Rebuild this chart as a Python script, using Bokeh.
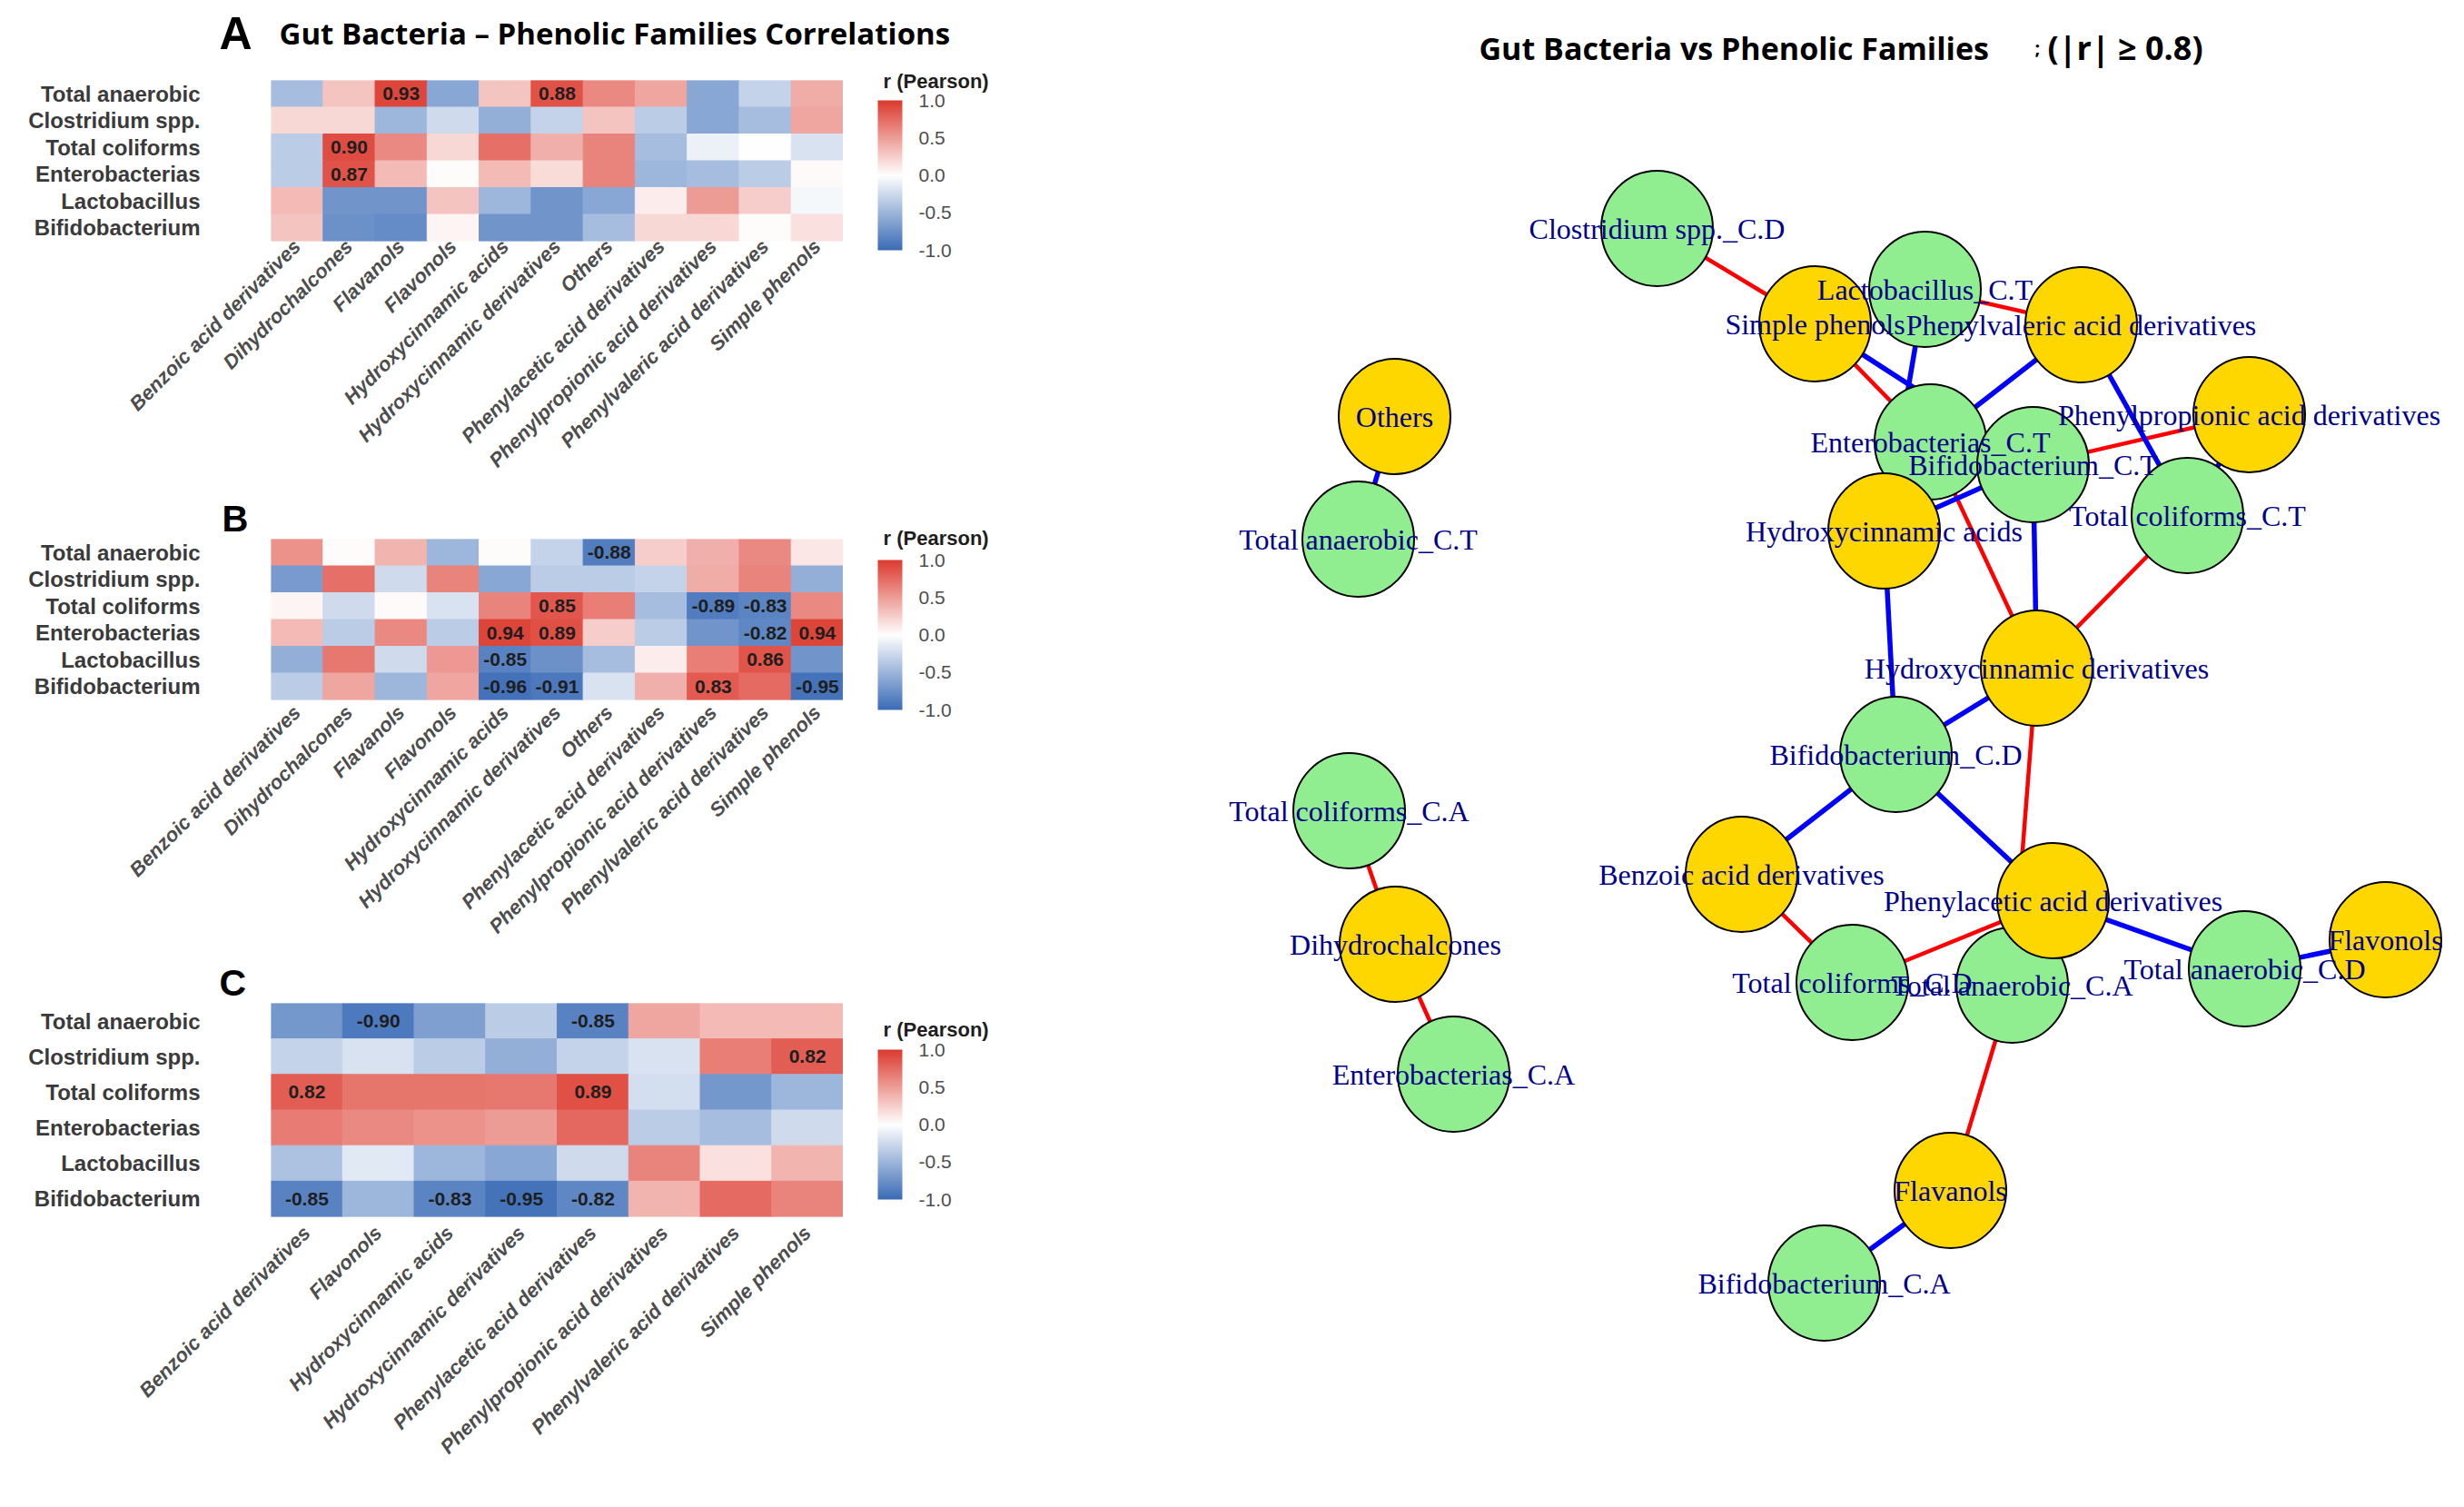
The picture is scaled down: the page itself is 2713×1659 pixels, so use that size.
import numpy as np
from bokeh.plotting import figure
from bokeh.models import (ColumnDataSource, LinearColorMapper, ColorBar, FixedTicker,
                          PrintfTickFormatter, Range1d, FactorRange)
from bokeh.layouts import column, row
from bokeh.core.properties import value
from bokeh.embed import file_html
from bokeh.resources import INLINE

# ---------------- data ----------------
rows = ["Total anaerobic", "Clostridium spp.", "Total coliforms",
        "Enterobacterias", "Lactobacillus", "Bifidobacterium"]

cols_ab = ["Benzoic acid derivatives", "Dihydrochalcones", "Flavanols", "Flavonols",
           "Hydroxycinnamic acids", "Hydroxycinnamic derivatives", "Others",
           "Phenylacetic acid derivatives", "Phenylpropionic acid derivatives",
           "Phenylvaleric acid derivatives", "Simple phenols"]

cols_c = ["Benzoic acid derivatives", "Flavonols", "Hydroxycinnamic acids",
          "Hydroxycinnamic derivatives", "Phenylacetic acid derivatives",
          "Phenylpropionic acid derivatives", "Phenylvaleric acid derivatives",
          "Simple phenols"]

r_A = [
    [-0.45, 0.30, 0.93, -0.60, 0.30, 0.88, 0.60, 0.45, -0.60, -0.30, 0.42],
    [0.20, 0.20, -0.50, -0.25, -0.55, -0.30, 0.30, -0.35, -0.60, -0.45, 0.45],
    [-0.35, 0.90, 0.60, 0.20, 0.72, 0.40, 0.62, -0.45, -0.10, 0.00, -0.20],
    [-0.35, 0.87, 0.35, 0.02, 0.35, 0.18, 0.62, -0.50, -0.45, -0.35, 0.03],
    [0.35, -0.72, -0.72, 0.30, -0.50, -0.72, -0.60, 0.10, 0.50, 0.25, -0.05],
    [0.30, -0.75, -0.78, 0.05, -0.72, -0.72, -0.45, 0.20, 0.20, 0.02, 0.15],
]

r_B = [
    [0.55, 0.02, 0.38, -0.50, 0.02, -0.30, -0.88, 0.25, 0.40, 0.60, 0.12],
    [-0.68, 0.72, -0.25, 0.62, -0.60, -0.35, -0.35, -0.30, 0.42, 0.62, -0.55],
    [0.05, -0.25, 0.03, -0.20, 0.62, 0.85, 0.65, -0.45, -0.89, -0.83, 0.60],
    [0.35, -0.35, 0.60, -0.35, 0.94, 0.89, 0.25, -0.35, -0.72, -0.82, 0.94],
    [-0.55, 0.68, -0.25, 0.52, -0.85, -0.75, -0.45, 0.10, 0.65, 0.86, -0.72],
    [-0.35, 0.45, -0.50, 0.45, -0.96, -0.91, -0.20, 0.40, 0.83, 0.75, -0.95],
]

r_C = [
    [-0.70, -0.90, -0.65, -0.35, -0.85, 0.45, 0.35, 0.35],
    [-0.30, -0.20, -0.35, -0.55, -0.30, -0.20, 0.65, 0.82],
    [0.82, 0.70, 0.70, 0.68, 0.89, -0.22, -0.70, -0.50],
    [0.66, 0.60, 0.55, 0.50, 0.76, -0.35, -0.45, -0.25],
    [-0.42, -0.15, -0.50, -0.60, -0.25, 0.62, 0.15, 0.38],
    [-0.85, -0.50, -0.83, -0.95, -0.82, 0.38, 0.75, 0.62],
]

cb_ticks = [-1.0, -0.5, 0.0, 0.5, 1.0]

# network: node names, kind (B = bacteria, P = phenolic family), layout coordinates
node_names = ["Clostridium spp._C.D", "Simple phenols", "Lactobacillus_C.T",
              "Phenylvaleric acid derivatives", "Others", "Total anaerobic_C.T",
              "Enterobacterias_C.T", "Bifidobacterium_C.T", "Hydroxycinnamic acids",
              "Phenylpropionic acid derivatives", "Total coliforms_C.T",
              "Hydroxycinnamic derivatives", "Bifidobacterium_C.D", "Total coliforms_C.A",
              "Benzoic acid derivatives", "Dihydrochalcones", "Total coliforms_C.D",
              "Total anaerobic_C.A", "Phenylacetic acid derivatives", "Total anaerobic_C.D",
              "Flavonols", "Enterobacterias_C.A", "Flavanols", "Bifidobacterium_C.A"]
node_kind = ["B", "P", "B", "P", "P", "B", "B", "B", "P", "P", "B", "P", "B", "B",
             "P", "P", "B", "B", "P", "B", "P", "B", "P", "B"]
node_lx = [1824, 1998, 2119, 2291, 1535, 1495, 2125, 2238, 2074, 2476, 2408, 2242,
           2087, 1485, 1917, 1536, 2039, 2215, 2260, 2471, 2626, 1600, 2147, 2008]
node_ly = [251, 356, 318, 357, 458, 593, 486, 511, 584, 456, 567, 735,
           830, 892, 962, 1039, 1081, 1084, 991, 1066, 1034, 1182, 1310, 1412]

edge_src = ["Clostridium spp._C.D", "Lactobacillus_C.T", "Lactobacillus_C.T",
            "Enterobacterias_C.T", "Enterobacterias_C.T", "Enterobacterias_C.T",
            "Enterobacterias_C.T", "Bifidobacterium_C.T", "Bifidobacterium_C.T",
            "Bifidobacterium_C.T", "Bifidobacterium_C.T", "Total coliforms_C.T",
            "Total coliforms_C.T", "Total coliforms_C.T", "Total anaerobic_C.T",
            "Bifidobacterium_C.D", "Bifidobacterium_C.D", "Bifidobacterium_C.D",
            "Bifidobacterium_C.D", "Total coliforms_C.D", "Total coliforms_C.D",
            "Total anaerobic_C.D", "Total anaerobic_C.D", "Total anaerobic_C.A",
            "Total anaerobic_C.A", "Total coliforms_C.A", "Enterobacterias_C.A",
            "Bifidobacterium_C.A"]
edge_dst = ["Simple phenols", "Hydroxycinnamic acids", "Phenylvaleric acid derivatives",
            "Simple phenols", "Hydroxycinnamic acids", "Hydroxycinnamic derivatives",
            "Phenylvaleric acid derivatives", "Simple phenols", "Hydroxycinnamic acids",
            "Hydroxycinnamic derivatives", "Phenylpropionic acid derivatives",
            "Hydroxycinnamic derivatives", "Phenylpropionic acid derivatives",
            "Phenylvaleric acid derivatives", "Others",
            "Benzoic acid derivatives", "Hydroxycinnamic acids", "Hydroxycinnamic derivatives",
            "Phenylacetic acid derivatives", "Benzoic acid derivatives",
            "Phenylacetic acid derivatives", "Flavonols", "Phenylacetic acid derivatives",
            "Flavanols", "Hydroxycinnamic derivatives", "Dihydrochalcones",
            "Dihydrochalcones", "Flavanols"]
edge_r = [0.82, -0.85, 0.86, 0.94, 0.94, 0.89, -0.82, -0.95, -0.96, -0.91, 0.83,
          0.85, -0.89, -0.83, -0.88, -0.85, -0.83, -0.95, -0.82, 0.82, 0.89,
          -0.90, -0.85, 0.93, 0.88, 0.90, 0.87, -0.80]

# ---------------- styling helpers ----------------
def make_palette(n=256):
    lo = np.array([59, 108, 183], dtype=float)
    mid = np.array([255, 255, 255], dtype=float)
    hi = np.array([220, 58, 46], dtype=float)
    out = []
    for t in np.linspace(0, 1, n):
        if t < 0.5:
            c = lo + (mid - lo) * (t / 0.5)
        else:
            c = mid + (hi - mid) * ((t - 0.5) / 0.5)
        out.append("#%02x%02x%02x" % tuple(int(round(v)) for v in c))
    return out

PAL = make_palette()
SANS = "Liberation Sans"
TITLE_FONT = "Open Sans"


def text_panel(width, height, x0, y0, texts):
    """A blank figure whose frame is the whole canvas; coordinates are page pixels."""
    p = figure(width=width, height=height, x_range=Range1d(x0, x0 + width),
               y_range=Range1d(y0 + height, y0), output_backend="svg",
               toolbar_location=None, x_axis_location=None, y_axis_location=None,
               min_border=0, outline_line_color=None, title=None)
    p.grid.visible = False
    for (txt, x, y, size, font, style, color) in texts:
        p.text(x=[x], y=[y], text=[txt], text_font=value(font), text_font_style=style,
               text_font_size=size, text_color=color, text_align="left",
               text_baseline="middle")
    return p


def heatmap(vals, cols, height, mb_top, mb_bottom, x_standoff):
    mapper = LinearColorMapper(palette=PAL, low=-1, high=1)
    xs, ys, rs, labs = [], [], [], []
    for i, rname in enumerate(rows):
        for j, cname in enumerate(cols):
            v = vals[i][j]
            xs.append(cname)
            ys.append(rname)
            rs.append(v)
            labs.append("%.2f" % v if abs(v) >= 0.8 else "")
    src = ColumnDataSource(dict(x=xs, y=ys, r=rs, lab=labs))
    p = figure(width=928, height=height,
               x_range=FactorRange(factors=cols), y_range=FactorRange(factors=rows[::-1]),
               output_backend="svg", toolbar_location=None, title=None,
               min_border_left=298, min_border_right=0,
               min_border_top=mb_top, min_border_bottom=mb_bottom,
               outline_line_color=None)
    p.grid.visible = False
    p.rect(x="x", y="y", width=1, height=1, source=src,
           fill_color={"field": "r", "transform": mapper},
           line_color={"field": "r", "transform": mapper}, line_width=1)
    p.text(x="x", y="y", text="lab", source=src, text_align="center",
           text_baseline="middle", text_font=value(SANS), text_font_style="bold",
           text_font_size="21px", text_color="#1e1e1e")

    xa = p.xaxis[0]
    xa.major_label_orientation = np.pi / 4
    xa.major_label_text_font = SANS
    xa.major_label_text_font_style = "bold italic"
    xa.major_label_text_font_size = "22px"
    xa.major_label_text_color = "#4d4d4d"
    xa.major_tick_line_color = None
    xa.major_tick_out = 0
    xa.axis_line_color = None
    xa.major_label_standoff = x_standoff

    ya = p.yaxis[0]
    ya.major_label_text_font = SANS
    ya.major_label_text_font_style = "bold"
    ya.major_label_text_font_size = "24px"
    ya.major_label_text_color = "#3a3a3a"
    ya.major_tick_line_color = None
    ya.major_tick_out = 0
    ya.axis_line_color = None
    ya.major_label_standoff = 78
    return p, mapper


def colorbar_panel(mapper, height, y0, bar_bottom, title_y):
    p = text_panel(372, height, 928, y0,
                   [("r (Pearson)", 972, title_y, "22px", SANS, "bold", "#1e1e1e")])
    cb = ColorBar(color_mapper=mapper, ticker=FixedTicker(ticks=cb_ticks),
                  formatter=PrintfTickFormatter(format="%.1f"),
                  orientation="vertical", width=27, height=165,
                  location=(38, y0 + height - bar_bottom), padding=0, margin=0,
                  major_label_text_font=SANS, major_label_text_font_size="21px",
                  major_label_text_color="#4d4d4d", label_standoff=18,
                  major_tick_line_color=None, bar_line_color=None,
                  background_fill_color=None, border_line_color=None)
    p.add_layout(cb)
    return p


# ---- panel A ----  (page y 0 -> 548)
hA = text_panel(1300, 75, 0, 0,
                [("A", 241, 36, "50px", SANS, "bold", "black"),
                 ("Gut Bacteria \u2013 Phenolic Families Correlations", 307, 36, "33px",
                  TITLE_FONT, "bold", "black")])
pA, mA = heatmap(r_A, cols_ab, 473, 13, 283, 2)        # page y 75 -> 548
cA = colorbar_panel(mA, 473, 75, 275, 89)
blockA = column(hA, row(column(pA), column(cA)))

# ---- panel B ----  (page y 548 -> 1058)
hB = text_panel(928, 45, 0, 548, [("B", 244, 570.5, "40px", SANS, "bold", "black")])
pB, mB = heatmap(r_B, cols_ab, 465, 0, 288, 10)        # page y 593 -> 1058
cB = colorbar_panel(mB, 510, 548, 781, 592)
blockB = row(column(row(hB), row(pB)), column(cB))

# ---- panel C ----  (page y 1058 -> 1643)
hC = text_panel(928, 46, 0, 1058, [("C", 241, 1081, "41px", SANS, "bold", "black")])
pC, mC = heatmap(r_C, cols_c, 539, 0, 304, 14)         # page y 1104 -> 1643
cC = colorbar_panel(mC, 585, 1058, 1320, 1133)
blockC = row(column(row(hC), row(pC)), column(cC))

left = column(blockA, blockB, blockC)

# ---------------- network ----------------
pos = {n: (x, y) for n, x, y in zip(node_names, node_lx, node_ly)}
ex0 = [pos[s][0] for s in edge_src]
ey0 = [pos[s][1] for s in edge_src]
ex1 = [pos[d][0] for d in edge_dst]
ey1 = [pos[d][1] for d in edge_dst]
ecol = ["#FF0000" if r > 0 else "#0000FF" for r in edge_r]
ewid = [4.5 if r > 0 else 5.5 for r in edge_r]

pN = figure(width=1397, height=1643, x_range=Range1d(1300, 2697), y_range=Range1d(1643, 0),
            output_backend="svg", toolbar_location=None, title=None,
            x_axis_location=None, y_axis_location=None,
            min_border=0, outline_line_color=None)
pN.grid.visible = False
pN.segment(x0=ex0, y0=ey0, x1=ex1, y1=ey1, line_color=ecol, line_width=ewid)
ncol = ["#90EE90" if k == "B" else "#FFD700" for k in node_kind]
pN.ellipse(x=node_lx, y=node_ly, width=123, height=127, fill_color=ncol,
           line_color="black", line_width=2)
pN.text(x=node_lx, y=node_ly, text=node_names, text_align="center",
        text_baseline="middle", text_font=value("Liberation Serif"),
        text_font_size="32px", text_color="#00008B")

pN.text(x=[1628], y=[52], text=["Gut Bacteria  vs Phenolic Families"],
        text_font=value(TITLE_FONT), text_font_style="bold", text_font_size="34px",
        text_color="black", text_baseline="middle")
pN.text(x=[2240], y=[52], text=[";"],
        text_font=value(TITLE_FONT), text_font_style="bold", text_font_size="20px",
        text_color="black", text_baseline="middle")
pN.text(x=[2254], y=[52], text=["(|r| \u2265 0.8)"],
        text_font=value(TITLE_FONT), text_font_style="bold", text_font_size="36px",
        text_color="black", text_baseline="middle")

layout = row(left, column(pN))
open("out.html", "w").write(file_html(layout, INLINE, title="Gut bacteria vs phenolic families"))
